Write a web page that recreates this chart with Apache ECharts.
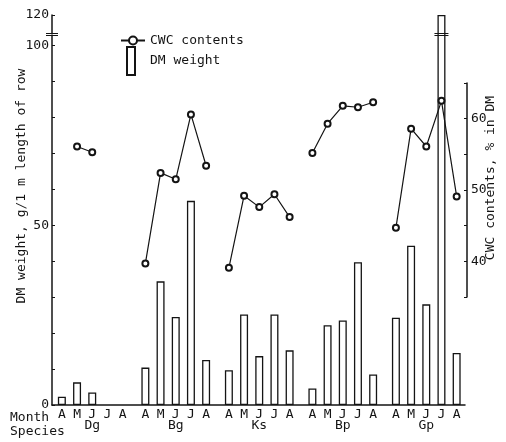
<!DOCTYPE html>
<html><head><meta charset="utf-8">
<script src="https://cdn.jsdelivr.net/npm/echarts@6/dist/echarts.min.js"></script>
<style>html,body{margin:0;padding:0;background:#fff}#c{width:506px;height:442px}</style>
</head><body><div id="c"></div>
<script>
const months = ['A','M','J','J','A'];
const species = ['Dg','Bg','Ks','Bp','Gp'];
// DM weight, g/1 m length of row
const dmDg = [2.3, 6.3, 3.5, null, null];
const dmBg = [10.4, 34.4, 24.5, 56.8, 12.5];
const dmKs = [9.7, 25.2, 13.6, 25.2, 15.2];
const dmBp = [4.6, 22.2, 23.5, 39.7, 8.5];
const dmGp = [24.3, 44.3, 28.0, 120, 14.5];
// CWC contents, % in DM
const cwcDg = [null, 56.1, 55.3, null, null];
const cwcBg = [39.7, 52.4, 51.5, 60.6, 53.4];
const cwcKs = [39.1, 49.2, 47.6, 49.4, 46.2];
const cwcBp = [55.2, 59.3, 61.8, 61.6, 62.3];
const cwcGp = [44.7, 58.6, 56.1, 62.5, 49.1];
const leftLabels = [0, 50, 100, 120];
const rightLabels = [40, 50, 60];
const axisBreak = {start: 103, end: 115, gap: 0.5};

const FONT = 'DejaVu Sans Mono';
const INK = '#141414';
const dmAll = [dmDg, dmBg, dmKs, dmBp, dmGp];
const cwcAll = [cwcDg, cwcBg, cwcKs, cwcBp, cwcGp];
const GROUP = 5.5; // 5 month slots + half-slot gap
const xPos = (g, m) => g * GROUP + m;
const barData = [], lineData = [], monthPos = [], monthLab = {}, speciesPos = [];
species.forEach((s, g) => {
  months.forEach((mo, m) => {
    const x = xPos(g, m);
    monthPos.push(x); monthLab[x] = mo;
    if (dmAll[g][m] != null) barData.push([x, dmAll[g][m]]);
    lineData.push([x, cwcAll[g][m] == null ? '-' : cwcAll[g][m]]);
  });
  lineData.push([xPos(g, 5), '-']);
  speciesPos.push(xPos(g, 2));
});
const XMIN = -0.65, XMAX = 26.55;
const leftTicks = [];
for (let v = 0; v <= 100; v += 10) leftTicks.push(v);
leftTicks.push(120);

const textG = [
  {type: 'text', left: 10, top: 411, style: {text: 'Month', font: '13px "DejaVu Sans Mono"', fill: INK}},
  {type: 'text', left: 10, top: 425, style: {text: 'Species', font: '13px "DejaVu Sans Mono"', fill: INK}},
  {type: 'text', x: 22, y: 186, rotation: Math.PI / 2,
   style: {text: 'DM weight, g/1 m length of row', font: '13px "DejaVu Sans Mono"', fill: INK, align: 'center', verticalAlign: 'middle'}},
  {type: 'text', x: 491, y: 178, rotation: Math.PI / 2,
   style: {text: 'CWC contents, % in DM', font: '13px "DejaVu Sans Mono"', fill: INK, align: 'center', verticalAlign: 'middle'}}
];

const chart = echarts.init(document.getElementById('c'), null, {renderer: 'canvas'});
chart.setOption({
  animation: false,
  backgroundColor: '#fff',
  textStyle: {fontFamily: FONT, color: INK},
  grid: [
    {left: 52, right: 41, top: 15, bottom: 37},
    {left: 52, right: 41, top: 83, bottom: 145}
  ],
  xAxis: [
    {gridIndex: 0, type: 'value', min: XMIN, max: XMAX, splitLine: {show: false},
     axisLine: {onZero: false, lineStyle: {color: INK, width: 1.5}}, axisTick: {show: false},
     axisLabel: {customValues: monthPos, formatter: v => monthLab[v] || '', fontSize: 13,
       color: INK, margin: 3, fontFamily: FONT}},
    {gridIndex: 0, type: 'value', min: XMIN, max: XMAX, position: 'bottom', offset: 12,
     splitLine: {show: false}, axisLine: {show: false, onZero: false}, axisTick: {show: false},
     axisLabel: {customValues: speciesPos, formatter: v => species[speciesPos.indexOf(v)] || '',
       fontSize: 13, color: INK, margin: 2, fontFamily: FONT}},
    {gridIndex: 1, type: 'value', min: XMIN, max: XMAX, show: false}
  ],
  yAxis: [
    {gridIndex: 0, type: 'value', min: 0, max: 120, interval: 10,
     breaks: [axisBreak], breakArea: {show: false},
     splitLine: {show: false},
     axisLine: {show: true, onZero: false, lineStyle: {color: INK, width: 1.5}},
     axisTick: {show: true, inside: true, length: 3, customValues: leftTicks, lineStyle: {color: INK}},
     axisLabel: {customValues: leftLabels, fontSize: 13, color: INK, margin: 3, fontFamily: FONT}},
    {gridIndex: 1, type: 'value', min: 35, max: 65, interval: 5, position: 'right', offset: 2,
     splitLine: {show: false},
     axisLine: {show: true, onZero: false, lineStyle: {color: INK, width: 1.5}},
     axisTick: {show: true, inside: true, length: 3, lineStyle: {color: INK}},
     axisLabel: {customValues: rightLabels, fontSize: 13, color: INK, margin: 4, fontFamily: FONT}}
  ],
  legend: [
    {data: ['CWC contents'], left: 120, top: 34, padding: 0, itemWidth: 24, itemHeight: 10,
     textStyle: {fontSize: 13, fontFamily: FONT, color: INK}},
    {data: [{name: 'DM weight', icon: 'rect'}], left: 126, top: 46, padding: 0, itemWidth: 8, itemHeight: 28,
     textStyle: {fontSize: 13, fontFamily: FONT, color: INK, padding: [10, 0, 0, 10]}}
  ],
  graphic: textG,
  series: [
    {name: 'DM weight', type: 'bar', xAxisIndex: 0, yAxisIndex: 0, data: barData, barWidth: 8,
     itemStyle: {color: '#fff', borderColor: INK, borderWidth: 1.3}},
    {name: 'CWC contents', type: 'line', xAxisIndex: 2, yAxisIndex: 1, data: lineData,
     connectNulls: false, symbol: 'emptyCircle', symbolSize: 6,
     lineStyle: {color: INK, width: 1.2}, itemStyle: {color: INK, borderWidth: 1.3}}
  ]
});

// break marks ("=") on the left axis and across the bar that exceeds the break
const yA = chart.convertToPixel({yAxisIndex: 0}, axisBreak.start);
const yB = chart.convertToPixel({yAxisIndex: 0}, axisBreak.end);
const xAxisPx = chart.convertToPixel({xAxisIndex: 0}, XMIN);
const marks = [];
const addMark = (xc, half) => {
  [yA, yB].forEach(y => marks.push({type: 'line', shape: {x1: xc - half, y1: Math.round(y) + 0.5, x2: xc + half, y2: Math.round(y) + 0.5},
    style: {stroke: INK, lineWidth: 1}, z: 100}));
};
addMark(xAxisPx, 6);
barData.forEach(d => { if (d[1] > axisBreak.end) addMark(chart.convertToPixel({xAxisIndex: 0}, d[0]), 7); });
chart.setOption({graphic: textG.concat(marks)});
</script></body></html>
